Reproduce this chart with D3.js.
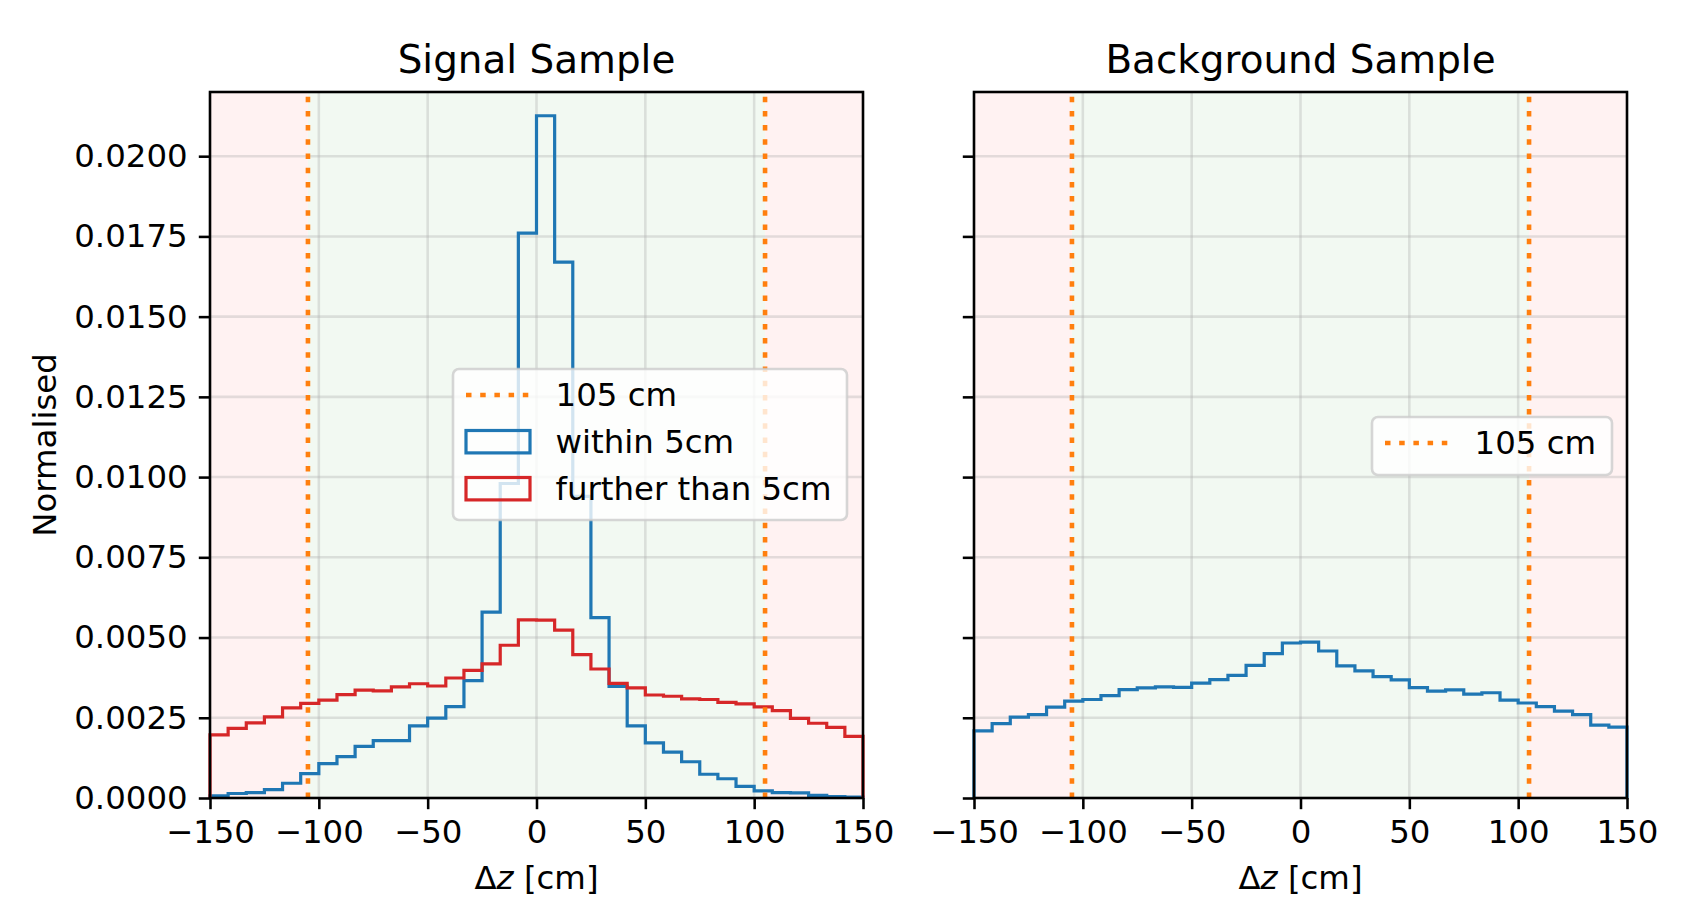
<!DOCTYPE html>
<html lang="en">
  <head>
    <meta charset="UTF-8" />
    <title>Delta z</title>
    <script src="https://d3js.org/d3.v7.min.js"></script>
    <style>
      body {
        margin: 0;
        background: #fff;
      }
      svg {
        display: block;
        font-family: "DejaVu Sans", sans-serif;
      }
    </style>
  </head>
  <body>
    <svg width="1688" height="919"></svg>
    <script>
      // 36 bins over [-150, 150] cm
      const zRange = [-150, 150];
      const nBins = 36;
      const cut = 105;
      const xTicks = [-150, -100, -50, 0, 50, 100, 150];
      const yTicks = [0, 0.0025, 0.005, 0.0075, 0.01, 0.0125, 0.015, 0.0175, 0.02];

      // signal, track within 5cm
      const signalWithin = [
        0.00007, 0.00014, 0.00017, 0.00026, 0.00046, 0.00076, 0.00107, 0.00129, 0.00161,
        0.00179, 0.00179, 0.00225, 0.00249, 0.00285, 0.00366, 0.00579, 0.0098, 0.0176,
        0.02126, 0.0167, 0.0094, 0.00562, 0.00348, 0.00225, 0.00172, 0.00143, 0.00113,
        0.00074, 0.0006, 0.00036, 0.00022, 0.00017, 0.00016, 0.00008, 0.00004, 0.00003,
      ];
      // signal, track further than 5cm
      const signalFurther = [
        0.00197, 0.00217, 0.00234, 0.00253, 0.00281, 0.00295, 0.00305, 0.00322, 0.00336,
        0.00334, 0.00346, 0.00356, 0.00349, 0.00374, 0.00398, 0.00418, 0.00476, 0.00555,
        0.00554, 0.00523, 0.00447, 0.00402, 0.00357, 0.00343, 0.00321, 0.00317, 0.00309,
        0.00307, 0.00298, 0.00293, 0.00284, 0.00272, 0.00248, 0.00233, 0.0022, 0.00192,
      ];
      const background = [
        0.00209, 0.00232, 0.00252, 0.0026, 0.00283, 0.00302, 0.00307, 0.00319, 0.00338,
        0.00343, 0.00346, 0.00345, 0.00358, 0.00369, 0.00382, 0.00413, 0.0045, 0.00483,
        0.00486, 0.00458, 0.00412, 0.00396, 0.00378, 0.00368, 0.00344, 0.00333, 0.00337,
        0.00324, 0.00328, 0.00305, 0.00296, 0.00285, 0.00271, 0.0026, 0.00227, 0.00221,
      ];

      const blue = "#1f77b4",
        red = "#d62728",
        orange = "#ff7f0e";
      const fs = 32.4; // 10pt
      const pw = 653,
        plotTop = 92,
        plotBottom = 798;

      const edges = d3.range(nBins + 1).map((i) => zRange[0] + (i * (zRange[1] - zRange[0])) / nBins);

      const panels = [
        {
          x0: 210,
          title: "Signal Sample",
          ylabels: true,
          series: [
            { values: signalWithin, color: blue },
            { values: signalFurther, color: red },
          ],
          legend: {
            x: 453,
            y: 369,
            w: 394,
            h: 151,
            items: [
              { kind: "line", color: orange, label: "105 cm" },
              { kind: "rect", color: blue, label: "within 5cm" },
              { kind: "rect", color: red, label: "further than 5cm" },
            ],
          },
        },
        {
          x0: 974,
          title: "Background Sample",
          ylabels: false,
          series: [{ values: background, color: blue }],
          legend: {
            x: 1372,
            y: 417,
            w: 240,
            h: 58,
            items: [{ kind: "line", color: orange, label: "105 cm" }],
          },
        },
      ];

      const svg = d3.select("svg");
      const y = d3.scaleLinear().domain([0, 0.022]).range([plotBottom, plotTop]);
      const fmtX = (d) => (d < 0 ? "\u2212" + Math.abs(d) : String(d));

      function drawPanel(p) {
        const x = d3.scaleLinear().domain(zRange).range([p.x0, p.x0 + pw]);
        const g = svg.append("g");

        // shaded regions
        g.selectAll("rect.span")
          .data([
            [zRange[0], -cut, "red"],
            [-cut, cut, "green"],
            [cut, zRange[1], "red"],
          ])
          .enter()
          .append("rect")
          .attr("x", (d) => x(d[0]))
          .attr("y", plotTop)
          .attr("width", (d) => x(d[1]) - x(d[0]))
          .attr("height", plotBottom - plotTop)
          .attr("fill", (d) => d[2])
          .attr("fill-opacity", 0.05);

        // grid
        g.selectAll("line.gx")
          .data(xTicks)
          .enter()
          .append("line")
          .attr("x1", (d) => x(d))
          .attr("x2", (d) => x(d))
          .attr("y1", plotTop)
          .attr("y2", plotBottom)
          .attr("stroke", "#b0b0b0")
          .attr("stroke-opacity", 0.35)
          .attr("stroke-width", 2.56);
        g.selectAll("line.gy")
          .data(yTicks)
          .enter()
          .append("line")
          .attr("x1", p.x0)
          .attr("x2", p.x0 + pw)
          .attr("y1", (d) => y(d))
          .attr("y2", (d) => y(d))
          .attr("stroke", "#b0b0b0")
          .attr("stroke-opacity", 0.35)
          .attr("stroke-width", 2.56);

        // step histograms
        const line = d3
          .line()
          .x((d) => x(d[0]))
          .y((d) => y(d[1]));
        p.series.forEach((s) => {
          const pts = [[edges[0], 0]];
          s.values.forEach((v, i) => {
            pts.push([edges[i], v]);
            pts.push([edges[i + 1], v]);
          });
          pts.push([edges[nBins], 0]);
          g.append("path")
            .attr("d", line(pts))
            .attr("fill", "none")
            .attr("stroke", s.color)
            .attr("stroke-width", 3.2);
        });

        // 105 cm lines
        g.selectAll("line.cut")
          .data([-cut, cut])
          .enter()
          .append("line")
          .attr("x1", (d) => x(d))
          .attr("x2", (d) => x(d))
          .attr("y1", plotBottom)
          .attr("y2", plotTop)
          .attr("stroke", orange)
          .attr("stroke-width", 4.6)
          .attr("stroke-dasharray", "5.5 8.7");

        // axes
        const ax = g
          .append("g")
          .attr("transform", `translate(0,${plotBottom})`)
          .call(d3.axisBottom(x).tickValues(xTicks).tickSize(11.2).tickPadding(11.2).tickFormat(fmtX));
        const ay = g
          .append("g")
          .attr("transform", `translate(${p.x0},0)`)
          .call(
            d3
              .axisLeft(y)
              .tickValues(yTicks)
              .tickSize(11.2)
              .tickPadding(11.2)
              .tickFormat(p.ylabels ? d3.format(".4f") : () => "")
          );
        [ax, ay].forEach((a) => {
          a.attr("font-size", fs).attr("font-family", "DejaVu Sans");
          a.select(".domain").remove();
          a.selectAll(".tick line").attr("stroke", "#000").attr("stroke-width", 2.56);
          a.selectAll(".tick text").attr("fill", "#000");
        });

        // spines
        g.append("rect")
          .attr("x", p.x0)
          .attr("y", plotTop)
          .attr("width", pw)
          .attr("height", plotBottom - plotTop)
          .attr("fill", "none")
          .attr("stroke", "#000")
          .attr("stroke-width", 2.56);

        // title and x label
        g.append("text")
          .attr("x", p.x0 + pw / 2)
          .attr("y", 73)
          .attr("text-anchor", "middle")
          .attr("font-size", 38.9)
          .text(p.title);
        const xl = g
          .append("text")
          .attr("x", p.x0 + pw / 2)
          .attr("y", 889)
          .attr("text-anchor", "middle")
          .attr("font-size", fs);
        xl.append("tspan").text("\u0394");
        xl.append("tspan").attr("font-style", "italic").text("z");
        xl.append("tspan").text(" [cm]");

        // legend
        const L = p.legend;
        const lg = g.append("g");
        lg.append("rect")
          .attr("x", L.x)
          .attr("y", L.y)
          .attr("width", L.w)
          .attr("height", L.h)
          .attr("rx", 6)
          .attr("fill", "#fff")
          .attr("fill-opacity", 0.8)
          .attr("stroke", "#cccccc")
          .attr("stroke-opacity", 0.8)
          .attr("stroke-width", 2.6);
        L.items.forEach((it, i) => {
          const base = L.y + 37 + i * 47;
          const hx = L.x + 13;
          if (it.kind === "line") {
            lg.append("line")
              .attr("x1", hx)
              .attr("x2", hx + 64)
              .attr("y1", base - 11)
              .attr("y2", base - 11)
              .attr("stroke", it.color)
              .attr("stroke-width", 4.6)
              .attr("stroke-dasharray", "5.5 8.7");
          } else {
            lg.append("rect")
              .attr("x", hx)
              .attr("y", base - 22.5)
              .attr("width", 64)
              .attr("height", 22.4)
              .attr("fill", "none")
              .attr("stroke", it.color)
              .attr("stroke-width", 3.2);
          }
          lg.append("text")
            .attr("x", hx + 64 + 25.6)
            .attr("y", base)
            .attr("font-size", fs)
            .text(it.label);
        });
      }

      panels.forEach(drawPanel);

      svg.append("text")
        .attr("transform", `translate(56,${(plotTop + plotBottom) / 2}) rotate(-90)`)
        .attr("text-anchor", "middle")
        .attr("font-size", fs)
        .text("Normalised");
    </script>
  </body>
</html>
